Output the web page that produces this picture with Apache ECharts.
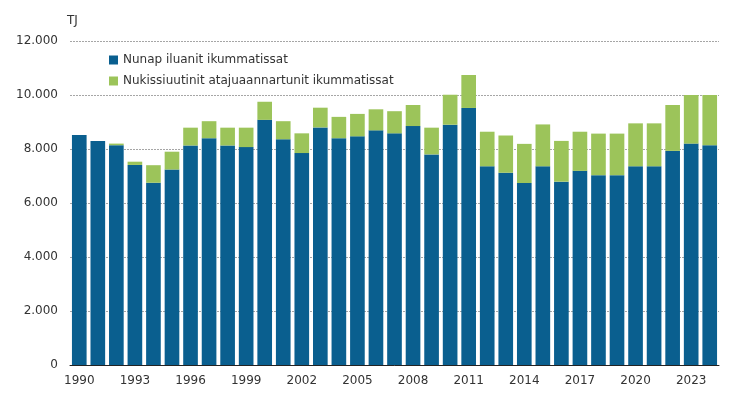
<!DOCTYPE html>
<html>
<head>
<meta charset="utf-8">
<script src="https://cdn.jsdelivr.net/npm/echarts@6/dist/echarts.min.js"></script>
<style>
  html, body { margin: 0; padding: 0; background: #fff; }
  #chart { width: 737px; height: 398px; }
</style>
</head>
<body>
<div id="chart"></div>
<script>
"use strict";

// Years 1990–2024, one bar each
const years = [
  "1990", "1991", "1992", "1993", "1994", "1995", "1996", "1997", "1998", "1999",
  "2000", "2001", "2002", "2003", "2004", "2005", "2006", "2007", "2008", "2009",
  "2010", "2011", "2012", "2013", "2014", "2015", "2016", "2017", "2018", "2019",
  "2020", "2021", "2022", "2023", "2024",
];

// Bottom segment (blue), TJ
const baseValues = [
  8520, 8300, 8140, 7410, 6750, 7240, 8130, 8400, 8130, 8070,
  9080, 8360, 7850, 8800, 8400, 8470, 8690, 8580, 8850, 7800,
  8900, 9520, 7360, 7120, 6740, 7360, 6790, 7190, 7030, 7030,
  7360, 7360, 7930, 8200, 8140,
];

// Stack totals; top segment (green) = total - base
const totalValues = [
  8520, 8300, 8200, 7530, 7400, 7900, 8790, 9030, 8790, 8790,
  9750, 9030, 8580, 9530, 9190, 9300, 9470, 9400, 9630, 8790,
  10010, 10740, 8640, 8500, 8190, 8910, 8300, 8640, 8570, 8570,
  8950, 8950, 9630, 10000, 10000,
];
const topValues = totalValues.map((t, i) => t - baseValues[i]);

const seriesNames = [
  "Nunap iluanit ikummatissat",
  "Nukissiuutinit atajuaannartunit ikummatissat",
];

const yTicks = { min: 0, max: 12000, interval: 2000 };

const BLUE = "#0a5f8f";
const GREEN = "#9cc45a";
const FONT = "'DejaVu Sans', Verdana, sans-serif";

const chart = echarts.init(document.getElementById("chart"), null, { renderer: "canvas" });

chart.setOption({
  animation: false,
  textStyle: { fontFamily: FONT },
  grid: { left: 70, right: 18, top: 41, bottom: 33 },
  graphic: [{
    type: "text",
    left: 67,
    top: 15,
    style: { text: "TJ", fill: "#333", font: "12px " + FONT },
  }],
  legend: {
    orient: "vertical",
    left: 104,
    top: 49,
    itemGap: 9,
    itemWidth: 9,
    itemHeight: 9,
    icon: "rect",
    textStyle: { color: "#333", fontSize: 12, fontFamily: FONT, padding: [0, 0, 0, 0] },
    data: seriesNames,
  },
  xAxis: {
    type: "category",
    data: years,
    axisLine: { lineStyle: { color: "#222", width: 1 } },
    axisTick: { show: false },
    axisLabel: {
      color: "#333",
      fontSize: 12,
      margin: 10,
      interval: 2,
    },
  },
  yAxis: {
    type: "value",
    min: yTicks.min,
    max: yTicks.max,
    interval: yTicks.interval,
    axisLine: { show: false },
    axisTick: { show: false },
    axisLabel: {
      color: "#333",
      fontSize: 12,
      margin: 12,
      formatter: (v) => String(v).replace(/\B(?=(\d{3})+(?!\d))/g, "."),
    },
    splitLine: { lineStyle: { color: "#a6a6a6", type: [2, 1], width: 1 } },
  },
  series: [
    {
      name: seriesNames[0],
      type: "bar",
      stack: "total",
      data: baseValues,
      barCategoryGap: "21%",
      itemStyle: { color: BLUE },
    },
    {
      name: seriesNames[1],
      type: "bar",
      stack: "total",
      data: topValues,
      barCategoryGap: "21%",
      itemStyle: { color: GREEN },
    },
  ],
});
</script>
</body>
</html>
